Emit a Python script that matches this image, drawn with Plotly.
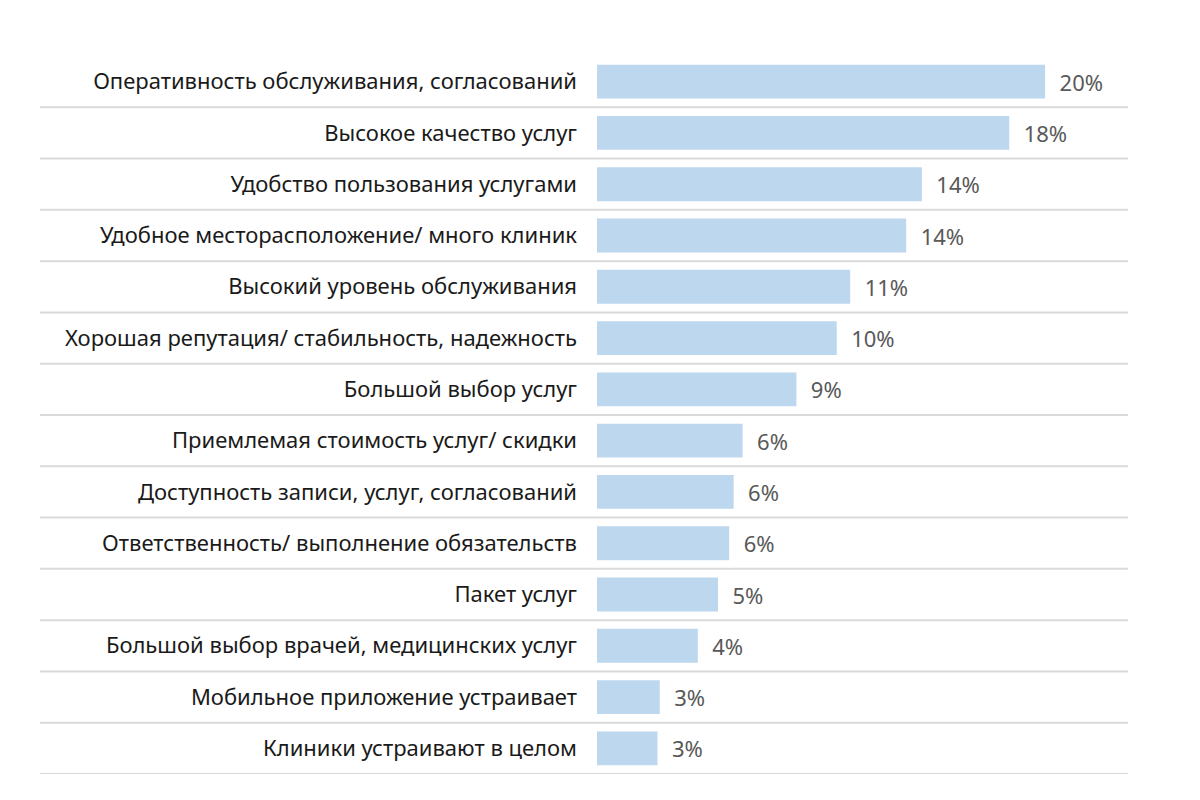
import plotly.graph_objects as go

categories = [
    "Оперативность обслуживания, согласований",
    "Высокое качество услуг",
    "Удобство пользования услугами",
    "Удобное месторасположение/ много клиник",
    "Высокий уровень обслуживания",
    "Хорошая репутация/ стабильность, надежность",
    "Большой выбор услуг",
    "Приемлемая стоимость услуг/ скидки",
    "Доступность записи, услуг, согласований",
    "Ответственность/ выполнение обязательств",
    "Пакет услуг",
    "Большой выбор врачей, медицинских услуг",
    "Мобильное приложение устраивает",
    "Клиники устраивают в целом",
]
values = [20.0, 18.4, 14.5, 13.8, 11.3, 10.7, 8.9, 6.5, 6.1, 5.9, 5.4, 4.5, 2.8, 2.7]
value_labels = ["20%", "18%", "14%", "14%", "11%", "10%", "9%", "6%", "6%", "6%", "5%", "4%", "3%", "3%"]

FONT = "Noto Sans"

fig = go.Figure(
    go.Bar(
        x=values,
        y=categories,
        orientation="h",
        marker=dict(color="#BDD7EE", line=dict(width=0)),
        width=0.66,
        text=["  " + t for t in value_labels],
        textposition="outside",
        cliponaxis=False,
        textfont=dict(family=FONT, size=22, color="#595959"),
        hoverinfo="skip",
    )
)

# row separator lines
shapes = []
n = len(categories)
for i in range(n):
    shapes.append(
        dict(
            type="line",
            xref="paper",
            yref="y",
            x0=-(589 - 32) / 531,
            x1=1.0,
            y0=i + 0.5,
            y1=i + 0.5,
            line=dict(color="#D9D9D9", width=2),
            layer="below",
        )
    )

fig.update_layout(
    width=1200,
    height=800,
    margin=dict(l=589, r=80, t=48, b=34),
    paper_bgcolor="white",
    plot_bgcolor="white",
    showlegend=False,
    shapes=shapes,
    xaxis=dict(
        range=[0, 23.7],
        visible=False,
        showgrid=False,
        zeroline=False,
    ),
    yaxis=dict(
        range=[n - 0.5, -0.5],
        autorange=False,
        showgrid=False,
        zeroline=False,
        showline=False,
        ticks="",
        ticklabelstandoff=19,
        tickfont=dict(family=FONT, size=22, color="#1A1A1A"),
    ),
    font=dict(family=FONT),
)

fig.write_html("out.html")
